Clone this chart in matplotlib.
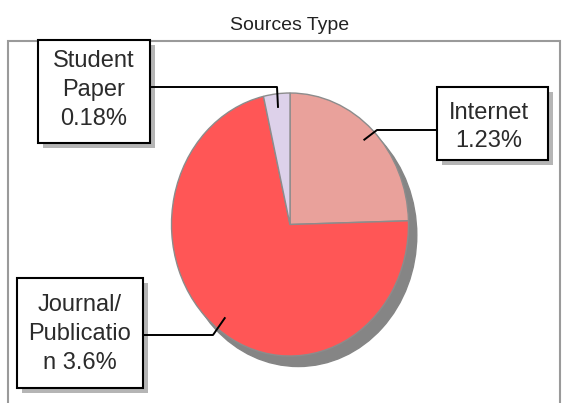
import numpy as np
import matplotlib
matplotlib.use('Agg')
import matplotlib.pyplot as plt
from matplotlib.patches import Rectangle, Ellipse
from matplotlib.lines import Line2D

plt.rcParams['font.family'] = ['Liberation Sans', 'DejaVu Sans']

# data
categories = ['Internet', 'Journal/\nPublicatio\nn', 'Student\nPaper']
values = [1.23, 3.6, 0.18]
labels = ['Internet\n1.23%', 'Journal/\nPublicatio\nn 3.6%', 'Student\nPaper\n0.18%']
colors = ['#E9A19B', '#FF5656', '#DDD1EA']

W, H = 565, 403
fig = plt.figure(figsize=(W / 100, H / 100), dpi=100)

def fx(x):
    return x / W

def fy(y):
    return 1 - y / H

# outer frame
fig.patches.append(Rectangle((fx(8), fy(420)), fx(560) - fx(8), fy(41) - fy(420),
                             transform=fig.transFigure, fill=False,
                             ec='#9a9a9a', lw=1.5, zorder=0))
fig.text(fx(290), fy(25), 'Sources Type', ha='center', va='center',
         fontsize=14, color='#222222')

# pie axes (slightly taller than wide, like the original)
cx, cy, rx, ry = 290, 224.5, 118.5, 131.5
ax = fig.add_axes([fx(cx - rx), fy(cy + ry), 2 * rx / W, 2 * ry / H])
ax.add_patch(Ellipse((0.07, -0.08), 2, 2, color='#858585', zorder=0, clip_on=False))
wedges, _ = ax.pie(values, colors=colors, startangle=90, counterclock=False,
                   radius=1, wedgeprops=dict(edgecolor='#8c8c8c', linewidth=1))
ax.set_aspect('auto')
ax.set_xlim(-1, 1)
ax.set_ylim(-1, 1)
ax.axis('off')

# label boxes: (x0, y0, x1, y1) in pixels from top-left, text centre, elbow point
boxes = [
    ((437, 87, 548, 160), (489, 127), [(437, 130), (377, 130)], 1.3),
    ((17, 278, 143, 388), (80, 334), [(143, 335), (213, 335)], 1.42),
    ((38, 40, 150, 143), (94, 90), [(150, 87), (277, 87)], 1.42),
]

fig.canvas.draw()
for w, lab, (box, tc, pts, ls) in zip(wedges, labels, boxes):
    x0, y0, x1, y1 = box
    # shadow
    fig.patches.append(Rectangle((fx(x0 + 5), fy(y1 + 5)), fx(x1) - fx(x0), fy(y0) - fy(y1),
                                 transform=fig.transFigure, fc='#b5b5b5', ec='none', zorder=3))
    fig.patches.append(Rectangle((fx(x0), fy(y1)), fx(x1) - fx(x0), fy(y0) - fy(y1),
                                 transform=fig.transFigure, fc='white', ec='black',
                                 lw=1.5, zorder=4))
    fig.text(fx(tc[0]), fy(tc[1]), lab, ha='center', va='center', fontsize=17,
             color='#2b2b2b', linespacing=ls, zorder=5)
    # leader line to wedge
    mid = np.deg2rad((w.theta1 + w.theta2) / 2)
    ex, ey = ax.transData.transform((0.9 * np.cos(mid), 0.9 * np.sin(mid)))
    ex, ey = ex / W, ey / H
    xs = [fx(p[0]) for p in pts] + [ex]
    ys = [fy(p[1]) for p in pts] + [ey]
    fig.lines.append(Line2D(xs, ys, transform=fig.transFigure, color='black',
                            lw=1.4, zorder=6))

plt.savefig('out.png', dpi=100)
